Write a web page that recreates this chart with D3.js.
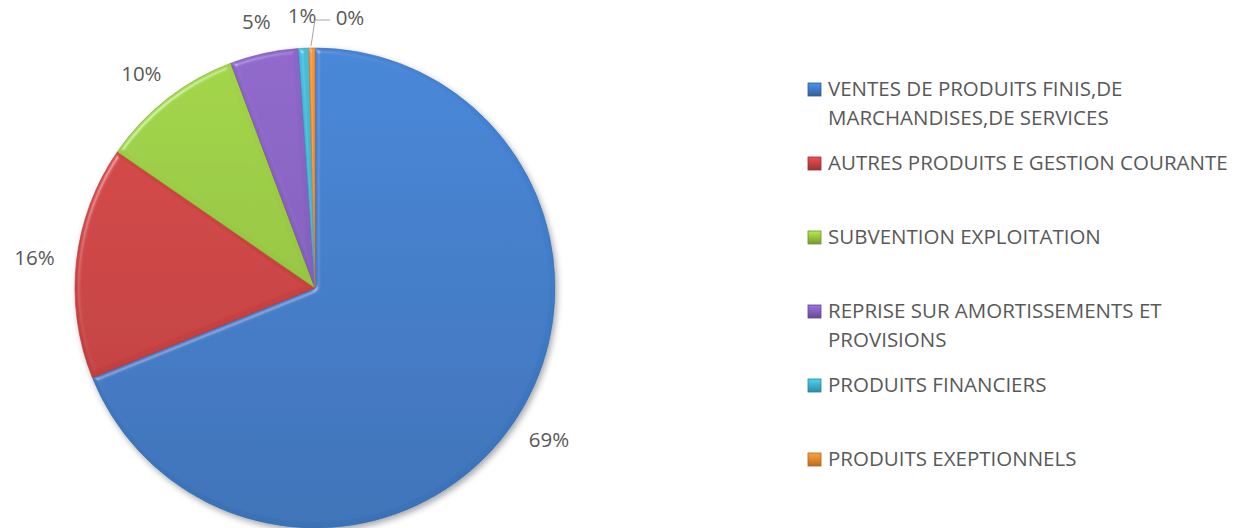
<!DOCTYPE html>
<html>
<head>
<meta charset="utf-8">
<script src="https://cdn.jsdelivr.net/npm/d3@7"></script>
<style>
  body { margin: 0; background: #fff; }
  svg text { font-family: "Open Sans", "Liberation Sans", sans-serif; fill: #595959; }
</style>
</head>
<body>
<div id="chart"></div>
<script>
// --- data ---
const categories = [
  "VENTES DE PRODUITS FINIS,DE MARCHANDISES,DE SERVICES",
  "AUTRES PRODUITS E GESTION COURANTE",
  "SUBVENTION EXPLOITATION",
  "REPRISE SUR AMORTISSEMENTS ET PROVISIONS",
  "PRODUITS FINANCIERS",
  "PRODUITS EXEPTIONNELS"
];
const shares = [68.9, 15.7, 9.7, 4.6, 0.7, 0.4];
const percentLabels = ["69%", "16%", "10%", "5%", "1%", "0%"];
const colors = ["#3f7cc8", "#ca4141", "#97c640", "#845fbd", "#3eb2cd", "#ef8a2c"];

// --- setup ---
const width = 1240, height = 528;
const cx = 315, cy = 288, radius = 240;

const svg = d3.select("#chart").append("svg")
  .attr("width", width).attr("height", height);

const defs = svg.append("defs");

// bevel filter (edge highlight)
const bevel = defs.append("filter").attr("id", "bevel")
  .attr("x", "-10%").attr("y", "-10%").attr("width", "120%").attr("height", "120%");
bevel.append("feGaussianBlur").attr("in", "SourceAlpha").attr("stdDeviation", 2.5).attr("result", "blur");
const spec = bevel.append("feSpecularLighting").attr("in", "blur")
  .attr("surfaceScale", 3).attr("specularConstant", 0.6).attr("specularExponent", 40)
  .attr("lighting-color", "#ffffff").attr("result", "spec");
spec.append("feDistantLight").attr("azimuth", 225).attr("elevation", 45);
bevel.append("feComposite").attr("in", "spec").attr("in2", "SourceAlpha")
  .attr("operator", "in").attr("result", "specIn");
bevel.append("feComposite").attr("in", "SourceGraphic").attr("in2", "specIn")
  .attr("operator", "arithmetic").attr("k1", 0).attr("k2", 1).attr("k3", 0.45).attr("k4", 0);

const shadow = defs.append("filter").attr("id", "shadow")
  .attr("x", "-10%").attr("y", "-10%").attr("width", "120%").attr("height", "120%");
shadow.append("feDropShadow").attr("dx", 2).attr("dy", 3).attr("stdDeviation", 3)
  .attr("flood-color", "#000").attr("flood-opacity", 0.35);

// vertical gradient per colour
colors.forEach((c, i) => {
  const g = defs.append("linearGradient").attr("id", "grad" + i)
    .attr("gradientUnits", "userSpaceOnUse")
    .attr("x1", 0).attr("y1", -radius).attr("x2", 0).attr("y2", radius);
  g.append("stop").attr("offset", "0%").attr("stop-color", d3.color(c).brighter(0.2));
  g.append("stop").attr("offset", "100%").attr("stop-color", d3.color(c).darker(0.25));
  const lg = defs.append("linearGradient").attr("id", "lgrad" + i)
    .attr("x1", 0).attr("y1", 0).attr("x2", 0).attr("y2", 1);
  lg.append("stop").attr("offset", "0%").attr("stop-color", d3.color(c).brighter(0.5));
  lg.append("stop").attr("offset", "100%").attr("stop-color", d3.color(c).darker(0.7));
});

// --- pie ---
const pie = d3.pie().sort(null).value(d => d);
const arcs = pie(shares);
const arc = d3.arc().innerRadius(0).outerRadius(radius);

const pieG = svg.append("g").attr("transform", `translate(${cx},${cy})`)
  .attr("filter", "url(#shadow)");

pieG.selectAll("path.slice")
  .data(arcs)
  .enter().append("path")
  .attr("class", "slice")
  .attr("d", arc)
  .attr("fill", (d, i) => `url(#grad${i})`)
  .attr("filter", "url(#bevel)")
  .attr("stroke", (d, i) => d3.color(colors[i]).darker(0.5))
  .attr("stroke-width", 0.6);

// --- percent labels ---
const fontSize = 20.5;
const labelG = svg.append("g").attr("transform", `translate(${cx},${cy})`);
arcs.forEach((d, i) => {
  const a = (d.startAngle + d.endAngle) / 2;
  const sx = Math.sin(a), sy = -Math.cos(a);
  const t = labelG.append("text")
    .attr("text-anchor", "middle")
    .attr("dy", "0.35em")
    .style("font-size", fontSize + "px")
    .text(percentLabels[i]);
  const w = t.node().getComputedTextLength();
  let x = sx * 262 + sx * w / 2;
  let y = sy * 262 + sy * 10;
  if (i === arcs.length - 1) {
    // tiny last slice: label pushed right with a leader line
    const px = sx * radius, py = sy * radius;
    x = px + 38; y = -270;
    labelG.append("polyline")
      .attr("points", `${px - 1},${py - 2} ${px + 3},${y + 2} ${px + 18},${y + 2}`)
      .attr("fill", "none").attr("stroke", "#a6a6a6").attr("stroke-width", 1);
  }
  t.attr("x", x).attr("y", y);
});

// --- legend ---
const legendX = 808, legendY = 89, step = 74, lineH = 29, maxW = 412;
const legendG = svg.append("g");
categories.forEach((name, i) => {
  const y0 = legendY + i * step;
  legendG.append("rect")
    .attr("x", legendX).attr("y", y0 - 6).attr("width", 13).attr("height", 13)
    .attr("fill", `url(#lgrad${i})`)
    .attr("stroke", d3.color(colors[i]).darker(0.9)).attr("stroke-width", 0.8);
  const text = legendG.append("text")
    .attr("x", legendX + 20).attr("y", y0)
    .style("font-size", fontSize + "px");
  const words = name.split(" ");
  let line = [], lineNo = 0;
  let tspan = text.append("tspan").attr("x", legendX + 20).attr("y", y0).attr("dy", "0.35em");
  words.forEach(w => {
    line.push(w);
    tspan.text(line.join(" "));
    if (tspan.node().getComputedTextLength() > maxW && line.length > 1) {
      line.pop();
      tspan.text(line.join(" "));
      line = [w];
      lineNo++;
      tspan = text.append("tspan").attr("x", legendX + 20)
        .attr("y", y0 + lineNo * lineH).attr("dy", "0.35em").text(w);
    }
  });
});
</script>
</body>
</html>
